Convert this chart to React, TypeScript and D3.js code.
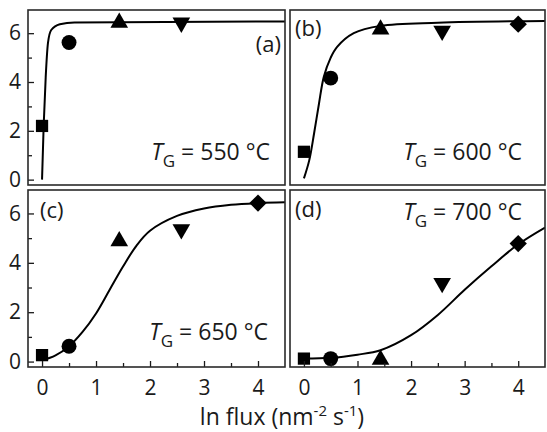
import { useEffect, useRef } from "react";
import * as d3 from "d3";

// growth temperatures for the four panels
const panelLabels = ["(a)", "(b)", "(c)", "(d)"];
const temperatures = [550, 600, 650, 700];

// measured points: ln flux positions and one value list per panel
const markerX = [0, 0.5, 1.43, 2.58, 4.0];
const markerShapes = ["square", "circle", "triangleUp", "triangleDown", "diamond"];
const valuesA = [2.2, 5.62, 6.43, 6.43, null];
const valuesB = [1.14, 4.16, 6.15, 6.1, 6.37];
const valuesC = [0.26, 0.62, 4.88, 5.36, 6.42];
const valuesD = [0.12, 0.12, 0.08, 3.18, 4.78];

// fitted curves as [ln flux, value]
const fitA: [number, number][] = [
  [0, 0], [0.03, 2.2], [0.068, 4.2], [0.11, 5.6], [0.17, 6.13],
  [0.33, 6.37], [0.6, 6.44], [4.5, 6.48],
];
const fitB: [number, number][] = [
  [0, 0.05], [0.1, 0.8], [0.19, 1.9], [0.28, 3.1], [0.37, 4.2], [0.5, 5.0],
  [0.62, 5.44], [0.93, 6.0], [1.43, 6.3], [2.5, 6.43], [4.5, 6.5],
];
const fitC: [number, number][] = [
  [0, 0.05], [0.25, 0.25], [0.5, 0.62], [0.75, 1.2], [1, 1.95], [1.25, 2.9],
  [1.5, 3.85], [1.75, 4.7], [2, 5.3], [2.5, 5.9], [3, 6.2], [3.5, 6.35],
  [4, 6.42], [4.5, 6.45],
];
const fitD: [number, number][] = [
  [0, 0.12], [0.5, 0.15], [1, 0.28], [1.43, 0.46], [2, 1.07], [2.5, 1.89],
  [3, 2.91], [3.5, 3.86], [4, 4.75], [4.5, 5.43],
];

const yTicks = [0, 2, 4, 6];
const yMinorTicks = [1, 3, 5];
const xTicks = [0, 1, 2, 3, 4];
const xMinorTicks = [0.5, 1.5, 2.5, 3.5];

const W = 547;
const H = 432;
const FONT = "'Open Sans', sans-serif";
const INK = "#1a1a1a";

// panel boxes and label placement (layout only)
const layout = [
  { x0: 28, x1: 285, y0: 10, y1: 185, lab: [281, 52, "end"], tg: [270, 160] },
  { x0: 290, x1: 545, y0: 10, y1: 185, lab: [295, 36, "start"], tg: [522, 160] },
  { x0: 28, x1: 285, y0: 190, y1: 367, lab: [40, 218, "start"], tg: [268, 340] },
  { x0: 290, x1: 545, y0: 190, y1: 367, lab: [295, 217, "start"], tg: [522, 220] },
];

const allValues = [valuesA, valuesB, valuesC, valuesD];
const allFits = [fitA, fitB, fitC, fitD];

const symbolFor = (shape: string) => {
  switch (shape) {
    case "square":
      return d3.symbol(d3.symbolSquare, 150)();
    case "circle":
      return d3.symbol(d3.symbolCircle, 175)();
    case "triangleUp":
    case "triangleDown":
      return d3.symbol(d3.symbolTriangle, 135)();
    default:
      return d3.symbol(d3.symbolSquare, 150)();
  }
};

export default function App() {
  const ref = useRef<SVGSVGElement | null>(null);

  useEffect(() => {
    const svg = d3.select(ref.current!);
    svg.selectAll("*").remove();

    layout.forEach((p, i) => {
      const x = d3.scaleLinear().domain([-0.26, 4.5]).range([p.x0, p.x1]);
      const y = d3.scaleLinear().domain([-0.22, 6.95]).range([p.y1, p.y0]);
      const g = svg.append("g");
      const isLeft = i % 2 === 0;
      const isBottom = i >= 2;

      const clipId = `clip-${i}`;
      svg
        .append("clipPath")
        .attr("id", clipId)
        .append("rect")
        .attr("x", p.x0)
        .attr("y", p.y0)
        .attr("width", p.x1 - p.x0)
        .attr("height", p.y1 - p.y0);

      // fitted curve (panel a is too steep for catmull-rom)
      const line = d3
        .line<[number, number]>()
        .x((d) => x(d[0]))
        .y((d) => y(d[1]))
        .curve(i === 0 ? d3.curveMonotoneX : d3.curveCatmullRom.alpha(0.5));
      g.append("path")
        .attr("d", line(allFits[i]))
        .attr("fill", "none")
        .attr("stroke", "#000")
        .attr("stroke-width", 2)
        .attr("clip-path", `url(#${clipId})`);

      // markers
      allValues[i].forEach((v, k) => {
        if (v === null) return;
        const shape = markerShapes[k];
        let rot = 0;
        if (shape === "triangleDown") rot = 180;
        if (shape === "diamond") rot = 45;
        g.append("path")
          .attr("d", symbolFor(shape))
          .attr("transform", `translate(${x(markerX[k])},${y(v)}) rotate(${rot})`)
          .attr("fill", "#000");
      });

      // axes with inward ticks
      if (isLeft) {
        const ax = g
          .append("g")
          .attr("transform", `translate(${p.x0},0)`)
          .call(d3.axisLeft(y).tickValues(yTicks).tickSize(-6).tickPadding(7).tickFormat(d3.format("d")));
        ax.call((s) => s.select(".domain").remove());
        ax.selectAll("text").attr("font-size", 21).attr("font-family", FONT).attr("fill", INK);
        ax.selectAll("line").attr("stroke", INK).attr("stroke-width", 1.3);
        const mn = g
          .append("g")
          .attr("transform", `translate(${p.x0},0)`)
          .call(d3.axisLeft(y).tickValues(yMinorTicks).tickSize(-4).tickFormat(() => ""));
        mn.call((s) => s.select(".domain").remove());
        mn.selectAll("line").attr("stroke", INK).attr("stroke-width", 1.3);
      }
      if (isBottom) {
        const ax = g
          .append("g")
          .attr("transform", `translate(0,${p.y1})`)
          .call(d3.axisBottom(x).tickValues(xTicks).tickSize(-6).tickPadding(13).tickFormat(d3.format("d")));
        ax.call((s) => s.select(".domain").remove());
        ax.selectAll("text").attr("font-size", 21).attr("font-family", FONT).attr("fill", INK);
        ax.selectAll("line").attr("stroke", INK).attr("stroke-width", 1.3);
        const mn = g
          .append("g")
          .attr("transform", `translate(0,${p.y1})`)
          .call(d3.axisBottom(x).tickValues(xMinorTicks).tickSize(-4).tickFormat(() => ""));
        mn.call((s) => s.select(".domain").remove());
        mn.selectAll("line").attr("stroke", INK).attr("stroke-width", 1.3);
      }

      // frame
      g.append("rect")
        .attr("x", p.x0)
        .attr("y", p.y0)
        .attr("width", p.x1 - p.x0)
        .attr("height", p.y1 - p.y0)
        .attr("fill", "none")
        .attr("stroke", "#2a2a2a")
        .attr("stroke-width", 1.6);

      // panel letter
      g.append("text")
        .attr("x", p.lab[0] as number)
        .attr("y", p.lab[1] as number)
        .attr("text-anchor", p.lab[2] as string)
        .attr("font-family", FONT)
        .attr("font-size", 22)
        .attr("fill", INK)
        .text(panelLabels[i]);

      // growth temperature
      const t = g
        .append("text")
        .attr("x", p.tg[0])
        .attr("y", p.tg[1])
        .attr("text-anchor", "end")
        .attr("font-family", FONT)
        .attr("font-size", 23)
        .attr("fill", INK);
      t.append("tspan").attr("font-style", "italic").text("T");
      t.append("tspan").attr("font-size", 17).attr("dy", 7).text("G");
      t.append("tspan").attr("dy", -7).text(` = ${temperatures[i]} °C`);
    });

    // shared x-axis title
    const title = svg
      .append("text")
      .attr("x", 282)
      .attr("y", 425)
      .attr("text-anchor", "middle")
      .attr("font-family", FONT)
      .attr("font-size", 23)
      .attr("fill", INK);
    title.append("tspan").text("ln flux (nm");
    title.append("tspan").attr("font-size", 15).attr("dy", -9).text("-2");
    title.append("tspan").attr("dy", 9).text(" s");
    title.append("tspan").attr("font-size", 15).attr("dy", -9).text("-1");
    title.append("tspan").attr("dy", 9).text(")");
  }, []);

  return (
    <div style={{ position: "absolute", left: 0, top: 0, background: "#fff" }}>
      <svg ref={ref} width={W} height={H} viewBox={`0 0 ${W} ${H}`} style={{ display: "block" }} />
    </div>
  );
}
